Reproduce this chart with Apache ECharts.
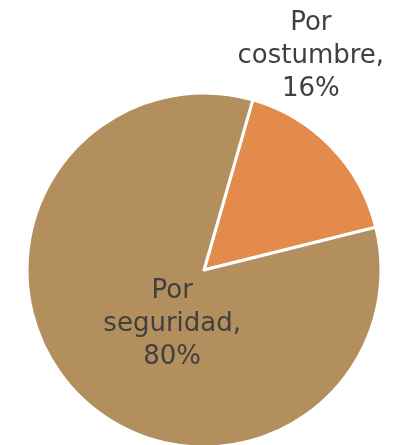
<!DOCTYPE html>
<html>
<head>
<meta charset="utf-8">
<script src="https://cdn.jsdelivr.net/npm/echarts@6/dist/echarts.min.js"></script>
<style>html,body{margin:0;padding:0;background:#fff}#c{width:400px;height:445px}</style>
</head>
<body>
<div id="c"></div>
<script>
const categories = ['Por costumbre', 'Por seguridad'];
const values = [16, 80];
const colors = ['#E38B4B', '#B38F5E'];
const labelShifts = [[41, -150], [34, -9]];

const chart = echarts.init(document.getElementById('c'), null, {renderer: 'canvas'});
chart.setOption({
  animation: false,
  series: [{
    type: 'pie',
    center: [204, 270],
    radius: 177,
    startAngle: 74,
    clockwise: true,
    data: categories.map((n, i) => ({name: n, value: values[i], itemStyle: {color: colors[i]}})),
    itemStyle: {borderColor: '#fff', borderWidth: 3},
    label: {
      show: true,
      position: 'inside',
      formatter: p => p.name.replace(' ', '\n') + ',\n' + p.value + '%',
      fontFamily: 'DejaVu Sans',
      fontSize: 26,
      lineHeight: 33,
      color: '#404040',
      align: 'center',
      overflow: 'none'
    },
    labelLine: {show: false},
    labelLayout: p => ({dx: labelShifts[p.dataIndex][0], dy: labelShifts[p.dataIndex][1]})
  }]
});
</script>
</body>
</html>
